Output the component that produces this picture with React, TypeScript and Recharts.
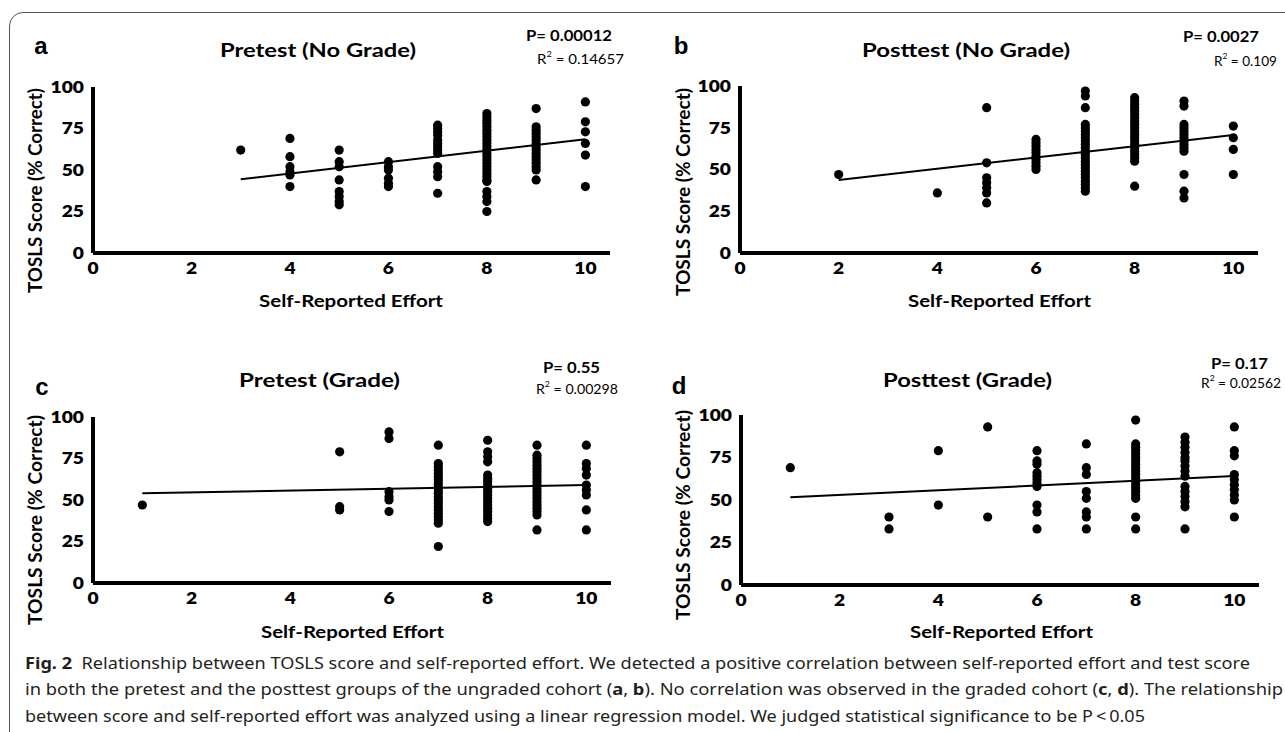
import React from "react";
import { ScatterChart, Scatter, XAxis, YAxis } from "recharts";

type Pt = { x: number; y: number };

// score columns, one list per effort level
const effortA = [3, 4, 5, 6, 7, 8, 9, 10];
const scoresA = [
  [62],
  [69, 58, 52, 49, 47, 40],
  [62, 55, 52, 44, 37, 34, 31, 29],
  [55, 52, 50, 45, 42, 40],
  [77, 75, 73, 71, 68, 66, 64, 62, 60, 52, 49, 46, 36],
  [84, 82, 80, 78, 76, 74, 72, 70, 68, 66, 64, 62, 60, 58, 56, 54, 52, 50, 48, 46, 44, 43, 37, 34, 31, 25],
  [87, 76, 74, 72, 70, 68, 66, 64, 62, 60, 58, 56, 54, 52, 50, 44],
  [91, 79, 73, 66, 59, 40],
];
const trendA = [
  { x: 3, y: 44.4 },
  { x: 10, y: 68.5 },
];

const effortB = [2, 4, 5, 6, 7, 8, 9, 10];
const scoresB = [
  [47],
  [36],
  [87, 54, 45, 42, 39, 36, 30],
  [68, 66, 64, 62, 60, 58, 56, 54, 52, 50],
  [97, 94, 87, 77, 75, 73, 71, 69, 67, 65, 63, 61, 59, 57, 55, 53, 51, 49, 47, 45, 43, 41, 39, 37],
  [93, 91, 89, 87, 85, 83, 81, 79, 77, 75, 73, 71, 69, 67, 65, 63, 61, 59, 57, 55, 40],
  [91, 88, 77, 75, 73, 71, 69, 67, 65, 63, 61, 47, 37, 33],
  [76, 69, 62, 47],
];
const trendB = [
  { x: 2, y: 43.7 },
  { x: 10, y: 70.7 },
];

const effortC = [1, 5, 6, 7, 8, 9, 10];
const scoresC = [
  [47],
  [79, 46, 44],
  [91, 87, 55, 52, 50, 43],
  [83, 72, 70, 68, 66, 64, 62, 60, 58, 56, 54, 52, 50, 48, 46, 44, 42, 40, 38, 36, 22],
  [86, 79, 76, 73, 65, 63, 61, 59, 57, 55, 53, 51, 49, 47, 45, 43, 41, 39, 37],
  [83, 77, 75, 73, 71, 69, 67, 65, 63, 61, 59, 57, 55, 53, 51, 49, 47, 45, 43, 41, 32],
  [83, 72, 69, 65, 59, 56, 53, 44, 32],
];
const trendC = [
  { x: 1, y: 54 },
  { x: 10, y: 59 },
];

const effortD = [1, 3, 4, 5, 6, 7, 8, 9, 10];
const scoresD = [
  [69],
  [40, 33],
  [79, 47],
  [93, 40],
  [79, 73, 71, 66, 64, 62, 60, 58, 47, 43, 33],
  [83, 69, 65, 55, 51, 43, 40, 33],
  [97, 83, 81, 79, 77, 75, 73, 71, 69, 67, 65, 63, 61, 59, 57, 55, 53, 51, 40, 33],
  [87, 84, 81, 78, 75, 73, 70, 67, 64, 58, 55, 52, 49, 46, 33],
  [93, 79, 76, 65, 62, 59, 56, 53, 50, 40],
];
const trendD = [
  { x: 1, y: 51.6 },
  { x: 10, y: 64.1 },
];

const xTicks = [0, 2, 4, 6, 8, 10];
const yTicks = [0, 25, 50, 75, 100];

const toPoints = (xs: number[], cols: number[][]): Pt[] =>
  xs.flatMap((x, i) => cols[i].map((y) => ({ x, y })));

const chartFont = "Lato, 'Open Sans', sans-serif";
const capFont = "'Noto Sans', 'Open Sans', sans-serif";
// the source figure is stretched sideways, so glyphs get widened a bit
const stretch = 1.2;

const Dot = (p: any) => <circle cx={p.cx} cy={p.cy} r={4.6} fill="#000" />;
const NoDot = () => <g />;

const XTick = (p: any) => (
  <g transform={`translate(${p.x},${p.y})`}>
    <text transform={`scale(${stretch},1)`} textAnchor="middle" dy="0.71em" fontSize={16} fontWeight={800} fontFamily={chartFont} fill="#000">
      {p.payload.value}
    </text>
  </g>
);
const YTick = (p: any) => (
  <g transform={`translate(${p.x},${p.y})`}>
    <text transform={`scale(${stretch},1)`} textAnchor="end" dy="0.36em" fontSize={16} fontWeight={800} fontFamily={chartFont} fill="#000">
      {p.payload.value}
    </text>
  </g>
);

const axisStyle = { stroke: "#000", strokeWidth: 4 };

function Panel({
  left,
  top,
  axisX,
  y0,
  y100,
  xEnd,
  points,
  trend,
}: {
  left: number;
  top: number;
  axisX: number;
  y0: number;
  y100: number;
  xEnd: number;
  points: Pt[];
  trend: Pt[];
}) {
  const w = 640;
  const h = 320;
  const yw = 40;
  const xh = 30;
  return (
    <div style={{ position: "absolute", left, top }}>
      <ScatterChart
        width={w}
        height={h}
        margin={{ left: axisX - left - yw, top: y100 - top, right: left + w - xEnd, bottom: top + h - y0 - xh }}
      >
        <XAxis
          type="number"
          dataKey="x"
          domain={[0, 10.5]}
          ticks={xTicks}
          height={xh}
          tickLine={false}
          tickMargin={4}
          tick={XTick}
          axisLine={axisStyle}
          stroke="#000"
        />
        <YAxis
          type="number"
          dataKey="y"
          domain={[0, 100]}
          ticks={yTicks}
          width={yw}
          tickLine={false}
          tickMargin={3}
          tick={YTick}
          axisLine={axisStyle}
          stroke="#000"
        />
        <Scatter data={points} shape={Dot} isAnimationActive={false} />
        <Scatter data={trend} shape={NoDot} line={{ stroke: "#000", strokeWidth: 2 }} isAnimationActive={false} />
      </ScatterChart>
    </div>
  );
}

// text fitted to a measured span: x1..x2 at centre height y
function Fit({
  x1,
  x2,
  y,
  size,
  bold,
  font,
  children,
}: {
  x1: number;
  x2: number;
  y: number;
  size: number;
  bold?: boolean;
  font?: string;
  children: React.ReactNode;
}) {
  return (
    <text
      x={x1}
      y={y}
      dominantBaseline="central"
      textLength={x2 - x1}
      lengthAdjust="spacingAndGlyphs"
      fontSize={size}
      fontWeight={bold ? 700 : 400}
      fontFamily={font ?? chartFont}
      style={{ whiteSpace: "pre" }}
    >
      {children}
    </text>
  );
}

function YTitle({ x, y1, y2 }: { x: number; y1: number; y2: number }) {
  const cy = (y1 + y2) / 2;
  return (
    <text
      transform={`rotate(-90 ${x} ${cy})`}
      x={x}
      y={cy}
      textAnchor="middle"
      dominantBaseline="central"
      textLength={y2 - y1}
      lengthAdjust="spacingAndGlyphs"
      fontSize={18}
      fontWeight={700}
      fontFamily={chartFont}
      fill="#000"
    >
      TOSLS Score (% Correct)
    </text>
  );
}

const Letter = ({ x, y, c }: { x: number; y: number; c: string }) => (
  <text x={x} y={y} textAnchor="middle" dominantBaseline="central" fontSize={24} fontWeight={700} fontFamily="'Liberation Sans', Arial, sans-serif" fill="#000">
    {c}
  </text>
);

const R2 = ({ x1, x2, y, v }: { x1: number; x2: number; y: number; v: string }) => (
  <Fit x1={x1} x2={x2} y={y} size={13}>
    R<tspan fontSize={8} dy={-5}>2</tspan>
    <tspan dy={5}> = {v}</tspan>
  </Fit>
);

export default function App() {
  return (
    <div style={{ position: "absolute", left: 0, top: 0, width: 1285, height: 732, background: "#fff", overflow: "hidden" }}>
      <div
        style={{
          position: "absolute",
          left: 9,
          top: 12,
          width: 1320,
          height: 760,
          border: "1px solid #555",
          borderRadius: 14,
        }}
      />
      <Panel left={0} top={0} axisX={93} y0={253} y100={87} xEnd={610} points={toPoints(effortA, scoresA)} trend={trendA} />
      <Panel left={640} top={0} axisX={740} y0={253} y100={86} xEnd={1258} points={toPoints(effortB, scoresB)} trend={trendB} />
      <Panel left={0} top={320} axisX={93} y0={583} y100={417} xEnd={611} points={toPoints(effortC, scoresC)} trend={trendC} />
      <Panel left={640} top={320} axisX={741} y0={585} y100={415} xEnd={1259} points={toPoints(effortD, scoresD)} trend={trendD} />

      <svg width={1285} height={732} style={{ position: "absolute", left: 0, top: 0, pointerEvents: "none" }}>
        <g fill="#000">
          <Letter x={41} y={45} c="a" />
          <Fit x1={220} x2={416} y={49} size={19} bold>Pretest (No Grade)</Fit>
          <Fit x1={526} x2={612} y={35} size={14.5} bold>P= 0.00012</Fit>
          <R2 x1={537} x2={624} y={59} v="0.14657" />
          <YTitle x={35} y1={88} y2={293} />
          <Fit x1={259} x2={443} y={300} size={17.5} bold>Self-Reported Effort</Fit>

          <Letter x={681} y={45} c="b" />
          <Fit x1={862} x2={1070} y={49} size={19} bold>Posttest (No Grade)</Fit>
          <Fit x1={1183} x2={1259} y={36} size={14.5} bold>P= 0.0027</Fit>
          <R2 x1={1214} x2={1277} y={61} v="0.109" />
          <YTitle x={683} y1={88} y2={296} />
          <Fit x1={908} x2={1091} y={300} size={17.5} bold>Self-Reported Effort</Fit>

          <Letter x={42} y={386} c="c" />
          <Fit x1={239} x2={400} y={379} size={19} bold>Pretest (Grade)</Fit>
          <Fit x1={543} x2={600} y={367} size={14.5} bold>P= 0.55</Fit>
          <R2 x1={536} x2={618} y={389} v="0.00298" />
          <YTitle x={35} y1={415} y2={625} />
          <Fit x1={261} x2={444} y={631} size={17.5} bold>Self-Reported Effort</Fit>

          <Letter x={679} y={385} c="d" />
          <Fit x1={883} x2={1052} y={379} size={19} bold>Posttest (Grade)</Fit>
          <Fit x1={1211} x2={1268} y={363} size={14.5} bold>P= 0.17</Fit>
          <R2 x1={1201} x2={1281} y={383} v="0.02562" />
          <YTitle x={683} y1={410} y2={620} />
          <Fit x1={910} x2={1093} y={631} size={17.5} bold>Self-Reported Effort</Fit>
        </g>

        <g fill="#231f20">
          <Fit x1={25} x2={1250} y={662} size={16.5} font={capFont}>
            <tspan fontWeight={700}>Fig. 2</tspan>
            {"\u00a0\u00a0Relationship between TOSLS score and self-reported effort. We detected a positive correlation between self-reported effort and test score"}
          </Fit>
          <Fit x1={25} x2={1283} y={688} size={16.5} font={capFont}>
            in both the pretest and the posttest groups of the ungraded cohort (<tspan fontWeight={700}>a</tspan>, <tspan fontWeight={700}>b</tspan>). No correlation was observed in the graded cohort (<tspan fontWeight={700}>c</tspan>, <tspan fontWeight={700}>d</tspan>). The relationship
          </Fit>
          <Fit x1={25} x2={1145} y={715} size={16.5} font={capFont}>
            between score and self-reported effort was analyzed using a linear regression model. We judged statistical significance to be P{"\u2009"}&lt;{"\u2009"}0.05
          </Fit>
        </g>
      </svg>
    </div>
  );
}
